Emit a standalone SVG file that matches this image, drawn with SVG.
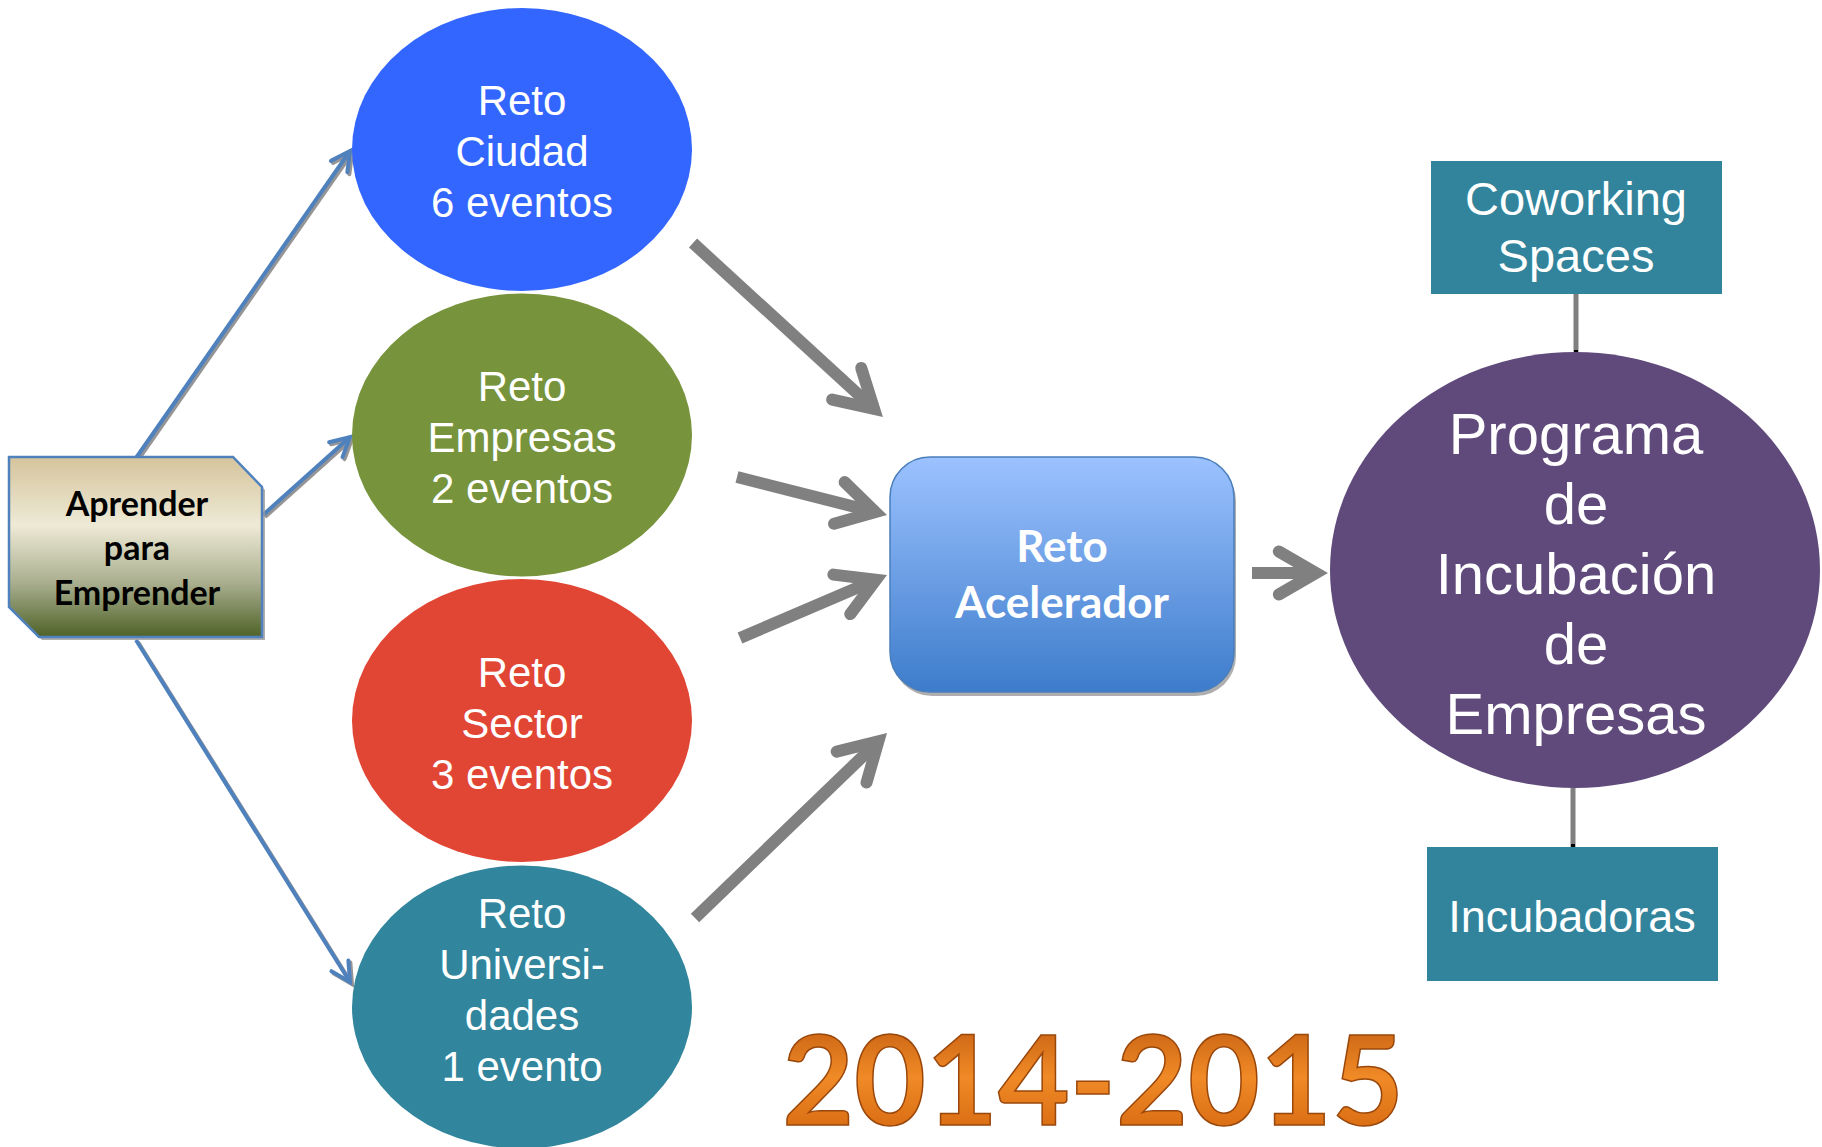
<svg xmlns="http://www.w3.org/2000/svg" width="1822" height="1147" viewBox="0 0 1822 1147">
<style>
.ell{font-family:"Liberation Sans",Arial,sans-serif;font-size:42px;fill:#fff;text-anchor:middle}
.big{font-family:"Liberation Sans",Arial,sans-serif;font-size:58px;fill:#fff;text-anchor:middle}
.box{font-family:"Liberation Sans",Arial,sans-serif;fill:#fff;text-anchor:middle}
.bold{font-family:Lato,"Open Sans",sans-serif;font-weight:bold;text-anchor:middle}
.blue{stroke:#4f81bd;stroke-width:4;fill:none;filter:url(#sh);marker-end:url(#bh)}
.gray{stroke:#808080;stroke-width:12;fill:none;marker-end:url(#gh)}
.conn{stroke:#7f7f7f;stroke-width:5}
</style>
<defs>
<filter id="sh" x="-20%" y="-20%" width="140%" height="140%">
<feDropShadow dx="2" dy="2" stdDeviation="0.6" flood-color="#7a7a7a" flood-opacity="0.8"/>
</filter>
<marker id="bh" markerUnits="userSpaceOnUse" markerWidth="40" markerHeight="40" viewBox="-30 -20 40 40" refX="0" refY="0" orient="auto">
<path d="M-19,-10 L0,0 L-19,10" fill="none" stroke="#4f81bd" stroke-width="4" stroke-linejoin="miter" stroke-linecap="round"/>
</marker>
<marker id="gh" markerUnits="userSpaceOnUse" markerWidth="80" markerHeight="80" viewBox="-60 -40 80 80" refX="0" refY="0" orient="auto" overflow="visible">
<path d="M-37.2,-21.5 L0,0 L-37.2,21.5" fill="none" stroke="#808080" stroke-width="12" stroke-linejoin="miter" stroke-miterlimit="10" stroke-linecap="round"/>
</marker>
<linearGradient id="gApr" x1="0" y1="0" x2="0" y2="1">
<stop offset="0" stop-color="#d5c49c"/>
<stop offset="0.38" stop-color="#eeead6"/>
<stop offset="0.7" stop-color="#a9ae8e"/>
<stop offset="1" stop-color="#4e6228"/>
</linearGradient>
<linearGradient id="gAcc" x1="0" y1="0" x2="0" y2="1">
<stop offset="0" stop-color="#9cc2ff"/>
<stop offset="1" stop-color="#3d7ccb"/>
</linearGradient>
<linearGradient id="gYear" x1="0" y1="0" x2="0" y2="1">
<stop offset="0" stop-color="#b8520c"/>
<stop offset="0.5" stop-color="#f08a26"/>
<stop offset="1" stop-color="#cf600b"/>
</linearGradient>
</defs>

<g id="connectors">
<line class="blue" x1="136" y1="458" x2="350" y2="151"/>
<line class="blue" x1="263" y1="515" x2="350" y2="437"/>
<line class="blue" x1="136" y1="640" x2="350" y2="982"/>
<line class="gray" x1="693" y1="243" x2="874.1" y2="408.9"/>
<line class="gray" x1="737" y1="477" x2="875.4" y2="512.1"/>
<line class="gray" x1="740" y1="638" x2="876" y2="579.7"/>
<line class="gray" x1="695" y1="918" x2="878.4" y2="741.3"/>
<line class="gray" x1="1252" y1="573" x2="1316" y2="573"/>
<line class="conn" x1="1576" y1="294" x2="1576" y2="353"/>
<line class="conn" x1="1573" y1="788" x2="1573" y2="848"/>
<rect x="1574" y="350" width="4" height="4" fill="#000"/>
<rect x="1571" y="844" width="4" height="4" fill="#000"/>
</g>

<g id="aprender">
<polygon points="12,460 236,460 265,490 265,640 42,640 12,610" fill="#9a9a9a" opacity="0.8"/>
<polygon points="9,457 233,457 262,487 262,637 39,637 9,607" fill="url(#gApr)" stroke="#4f81bd" stroke-width="2.5"/>
<text class="bold" x="137" y="516" font-size="34" fill="#000">Aprender</text>
<text class="bold" x="137" y="560" font-size="34" fill="#000">para</text>
<text class="bold" x="137" y="605" font-size="34" fill="#000">Emprender</text>
</g>

<g id="ciudad">
<ellipse cx="522" cy="149.5" rx="170" ry="141.5" fill="#3366ff"/>
<text class="ell" x="522" y="115">Reto</text>
<text class="ell" x="522" y="166">Ciudad</text>
<text class="ell" x="522" y="217">6 eventos</text>
</g>

<g id="empresas">
<ellipse cx="522" cy="435" rx="170" ry="141.5" fill="#77933c"/>
<text class="ell" x="522" y="401">Reto</text>
<text class="ell" x="522" y="452">Empresas</text>
<text class="ell" x="522" y="503">2 eventos</text>
</g>

<g id="sector">
<ellipse cx="522" cy="720.5" rx="170" ry="141.5" fill="#e14533"/>
<text class="ell" x="522" y="687">Reto</text>
<text class="ell" x="522" y="738">Sector</text>
<text class="ell" x="522" y="789">3 eventos</text>
</g>

<g id="universidades">
<ellipse cx="522" cy="1007" rx="170" ry="141.5" fill="#31859c"/>
<text class="ell" x="522" y="928">Reto</text>
<text class="ell" x="522" y="979">Universi-</text>
<text class="ell" x="522" y="1030">dades</text>
<text class="ell" x="522" y="1081">1 evento</text>
</g>

<g id="acelerador">
<rect x="892" y="461" width="344" height="235" rx="40" fill="#9a9a9a" opacity="0.8"/>
<rect x="890" y="457" width="344" height="235" rx="40" fill="url(#gAcc)" stroke="#4a7ebb" stroke-width="1.5"/>
<text class="bold" x="1062" y="562" font-size="44" fill="#fff">Reto</text>
<text class="bold" x="1062" y="618" font-size="44" fill="#fff">Acelerador</text>
</g>

<g id="programa">
<ellipse cx="1575" cy="570" rx="245" ry="218" fill="#604a7b"/>
<text class="big" x="1576" y="454">Programa</text>
<text class="big" x="1576" y="524">de</text>
<text class="big" x="1576" y="594">Incubación</text>
<text class="big" x="1576" y="664">de</text>
<text class="big" x="1576" y="734">Empresas</text>
</g>

<g id="coworking">
<rect x="1431" y="161" width="291" height="133" fill="#31849b"/>
<text class="box" x="1576" y="215" font-size="47">Coworking</text>
<text class="box" x="1576" y="272" font-size="47">Spaces</text>
</g>

<g id="incubadoras">
<rect x="1427" y="847" width="291" height="134" fill="#31849b"/>
<text class="box" x="1572" y="932" font-size="45">Incubadoras</text>
</g>

<g id="year">
<text x="1093" y="1125" text-anchor="middle" font-family="Lato,'Open Sans',sans-serif" font-weight="bold" font-size="124" fill="url(#gYear)" stroke="#9a470b" stroke-width="1.5">2014-2015</text>
</g>
</svg>
